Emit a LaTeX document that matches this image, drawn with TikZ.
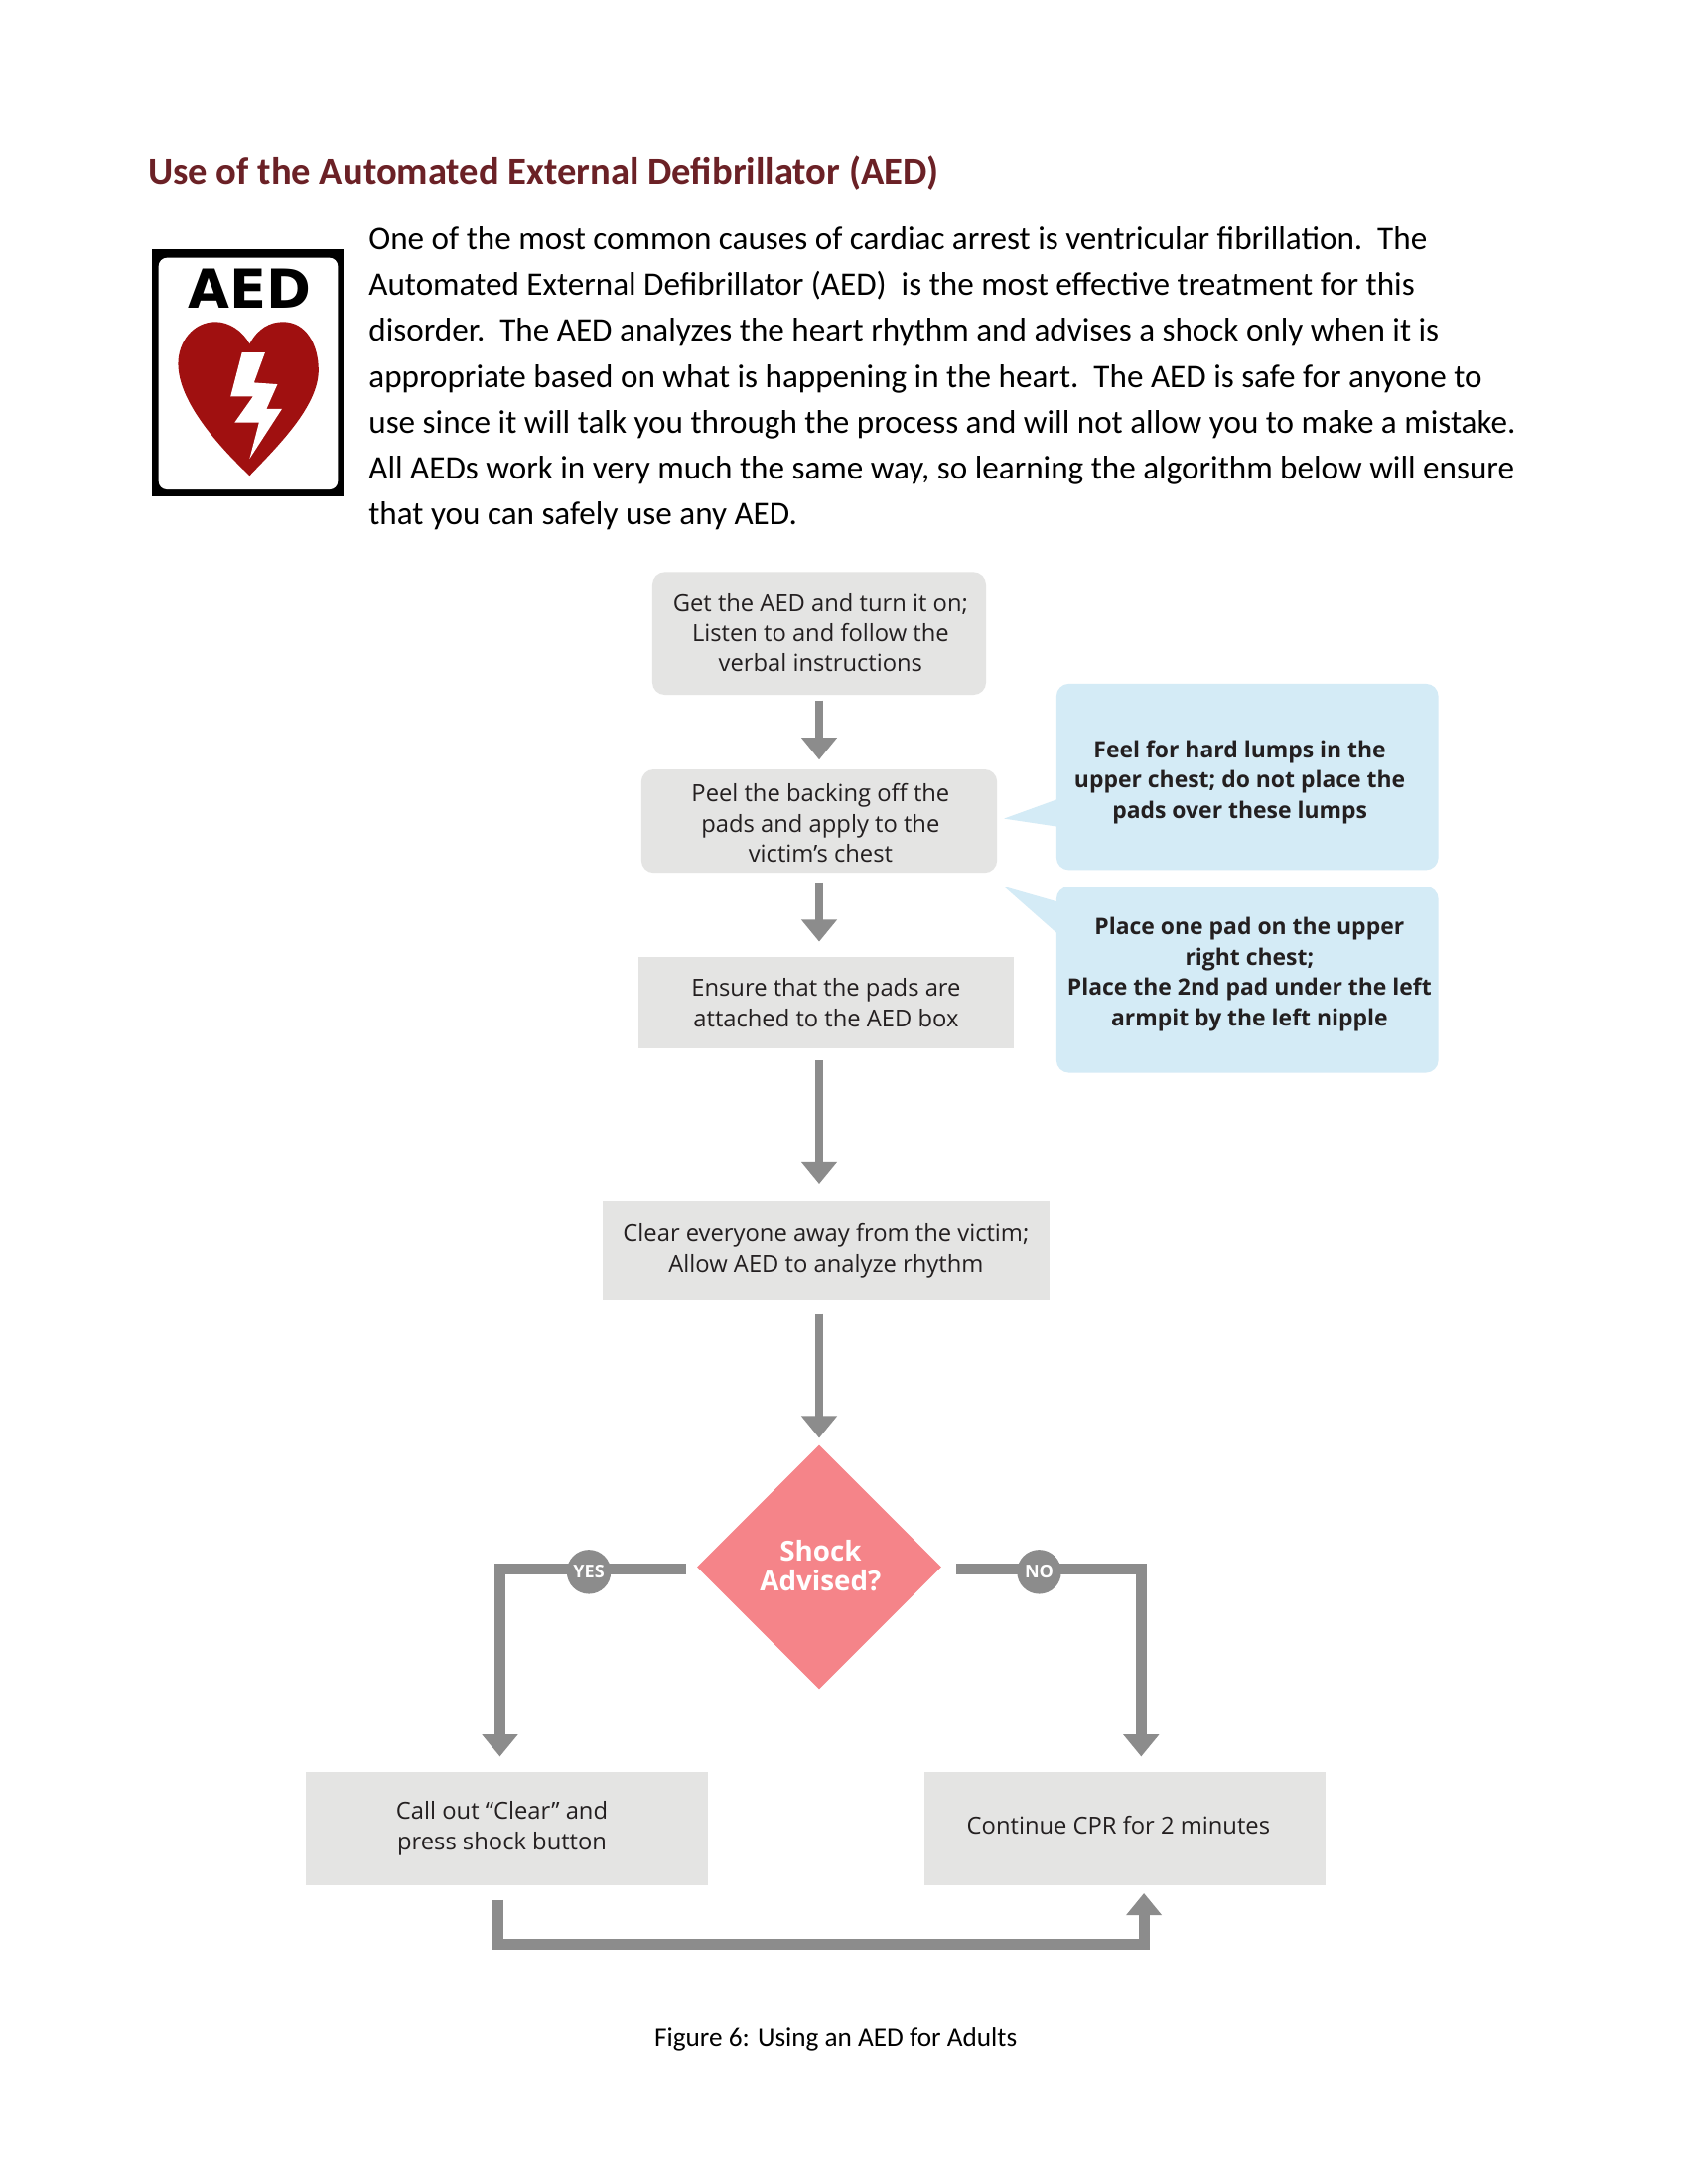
\documentclass[tikz,border=0pt]{standalone}
\usepackage{fontspec}
\setmainfont{Carlito}
\newfontfamily\opensans{Open Sans}
\newfontfamily\dejab{DejaVu Sans}
\usetikzlibrary{arrows.meta,calc,shapes.geometric}
\definecolor{boxgrey}{HTML}{E4E4E3}
\definecolor{calloutblue}{HTML}{D4EBF6}
\definecolor{shockpink}{HTML}{F58489}
\definecolor{linegrey}{HTML}{8C8C8C}
\definecolor{inkdark}{HTML}{231F20}
\definecolor{titlered}{HTML}{6B2126}
\definecolor{heartred}{HTML}{A01010}
\newcommand\boxt[3]{\raisebox{0pt}[\height][\dimexpr\depth+2\dimexpr#2\relax\relax]{\kern#1\begin{tabular}{@{}c@{}}#3\end{tabular}\kern-\dimexpr#1\relax}}
\tikzset{
  sz/.style 2 args={minimum width=#1*0.5bp,minimum height=#2*0.5bp},
  base/.style={inner sep=0pt,outer sep=0pt,text=inkdark,font=\opensans\fontsize{8.55bp}{11bp}\selectfont},
  greyr/.style={base,rectangle,fill=boxgrey,rounded corners=4.5bp},
  greys/.style={base,rectangle,fill=boxgrey},
  bluebox/.style={base,rectangle,fill=calloutblue,rounded corners=4.5bp,font=\opensans\bfseries\fontsize{8.25bp}{11bp}\selectfont},
  thin arrow/.style={draw=linegrey,line width=3.2bp,-{Triangle[width=12.5bp,length=8bp]}},
  thick arrow/.style={draw=linegrey,line width=4bp,-{Triangle[width=12.5bp,length=8bp]}},
  badge/.style={circle,fill=linegrey,minimum size=16bp,inner sep=0pt,text=white,font=\opensans\bfseries\fontsize{6.5bp}{8bp}\selectfont},
}
\begin{document}
\begin{tikzpicture}[x=0.5bp,y=-0.5bp]
\useasboundingbox[fill=white] (0,0) rectangle (1224,1584);
% heading and body
\node[anchor=base west,inner sep=0pt,text=titlered,font=\bfseries\fontsize{13.9bp}{17bp}\selectfont] (title) at (107,133.5) {Use of the Automated External Defibrillator (AED)};
\node[anchor=north west,inner sep=0pt,align=left,text=black,font=\fontsize{11.93bp}{16.65bp}\selectfont] (body) at (267,164) {One of the most common causes of cardiac arrest is ventricular fibrillation.\ \ The\\
Automated External Defibrillator (AED)\ \ is the most effective treatment for this\\
disorder.\ \ The AED analyzes the heart rhythm and advises a shock only when it is\\
appropriate based on what is happening in the heart.\ \ The AED is safe for anyone to\\
use since it will talk you through the process and will not allow you to make a mistake.\\
All AEDs work in very much the same way, so learning the algorithm below will ensure\\
that you can safely use any AED.};
% AED sign
\fill[black] (110,181) rectangle (249,360);
\fill[white,rounded corners=3bp] (115,187) rectangle (245,355);
\node[inner sep=0pt,font=\dejab\bfseries\fontsize{19.5bp}{20bp}\selectfont,text=black] (aedsign) at (181,209.5) {AED};
\fill[heartred] (181,249.5) .. controls (187,238) and (196,233.5) .. (205.2,233.5)
  .. controls (222,233.5) and (231,250) .. (231,268.5)
  .. controls (231,295) and (200,325) .. (181,345)
  .. controls (160,325) and (129.2,292) .. (129.2,263.7)
  .. controls (129.2,248) and (140,233.5) .. (156.3,233.5)
  .. controls (166,233.5) and (176,240) .. cycle;
\fill[white] (175.5,255.6) -- (192.2,255.6) -- (184.2,277.5) -- (201.2,278.7) -- (193.3,296.5) -- (204.5,296.5) -- (181,332.7) -- (187.8,306.5) -- (170.1,306.5) -- (183.5,287.5) -- (167.2,287.5) -- cycle;
% callout tails
\fill[calloutblue] (728,593.7) -- (770,578.5) -- (770,600) -- cycle;
\fill[calloutblue] (728,643) -- (770,655) -- (770,680) -- cycle;
% boxes
\node[greyr,sz={242}{89}] (get) at (594,459.5) {\boxt{0.5bp}{-0.75bp}{Get the AED and turn it on;\\Listen to and follow the\\verbal instructions}};
\node[greyr,sz={258}{75}] (peel) at (594,595.5) {\boxt{0.5bp}{-1.75bp}{Peel the backing off the\\pads and apply to the\\victim’s chest}};
\node[greys,sz={272}{66}] (ensure) at (599,727) {\boxt{0bp}{-1.1bp}{Ensure that the pads are\\attached to the AED box}};
\node[greys,sz={324}{72}] (clear) at (599,907) {\boxt{0bp}{0bp}{Clear everyone away from the victim;\\Allow AED to analyze rhythm}};
\node[bluebox,sz={277}{135}] (lumps) at (904.5,563.5) {\boxt{-2.75bp}{-1.75bp}{Feel for hard lumps in the\\upper chest; do not place the\\pads over these lumps}};
\node[bluebox,sz={277}{135}] (place) at (904.5,710.5) {\boxt{0.75bp}{2bp}{Place one pad on the upper\\right chest;\\Place the 2nd pad under the left\\armpit by the left nipple}};
\node[diamond,aspect=1,fill=shockpink,inner sep=0pt,outer sep=0pt,minimum width=88.5bp,minimum height=88.5bp,text=white,font=\opensans\bfseries\fontsize{10bp}{11bp}\selectfont] (shock) at (594,1136.5) {\boxt{0.5bp}{-1bp}{Shock\\Advised?}};
\node[greys,sz={291}{82}] (call) at (367.5,1326) {\boxt{-1.75bp}{0bp}{Call out “Clear” and\\press shock button}};
\node[greys,sz={291}{82}] (cont) at (815.5,1326) {\boxt{-2.25bp}{0bp}{Continue CPR for 2 minutes}};
% connectors
\draw[thin arrow,shorten <=2bp,shorten >=3.5bp] (get.south) -- (peel.north);
\draw[thin arrow,shorten <=3.5bp,shorten >=5.5bp] (peel.south) -- (peel.south |- ensure.north);
\draw[thin arrow,shorten <=4.5bp,shorten >=6bp] (peel.south |- ensure.south) -- (peel.south |- clear.north);
\draw[thin arrow,shorten <=5bp,shorten >=2.5bp] (peel.south |- clear.south) -- (shock.north);
\coordinate (yesx) at ($(call.north)+(-5,0)$);
\coordinate (nox) at ($(cont.north)+(12,0)$);
\draw[thick arrow,shorten <=4bp,shorten >=5.5bp] ($(shock.west)+(0,1.5)$) -| (yesx);
\draw[thick arrow,shorten <=5.5bp,shorten >=5.5bp] ($(shock.east)+(0,1.5)$) -| (nox);
\coordinate (loop) at (0,1410);
\draw[thick arrow,shorten <=5.5bp,shorten >=3bp] ($(call.south)+(-6.5,0)$) |- (loop -| cont.south) -| ($(cont.south)+(14,0)$);
\node[badge] (yes) at (427,1140) {YES};
\node[badge] (no) at (753.5,1140) {NO};
\node[anchor=base,inner sep=0pt,text=black,font=\fontsize{9.8bp}{12bp}\selectfont] (cap) at (606,1484) {Figure 6: Using an AED for Adults};
\end{tikzpicture}
\end{document}
